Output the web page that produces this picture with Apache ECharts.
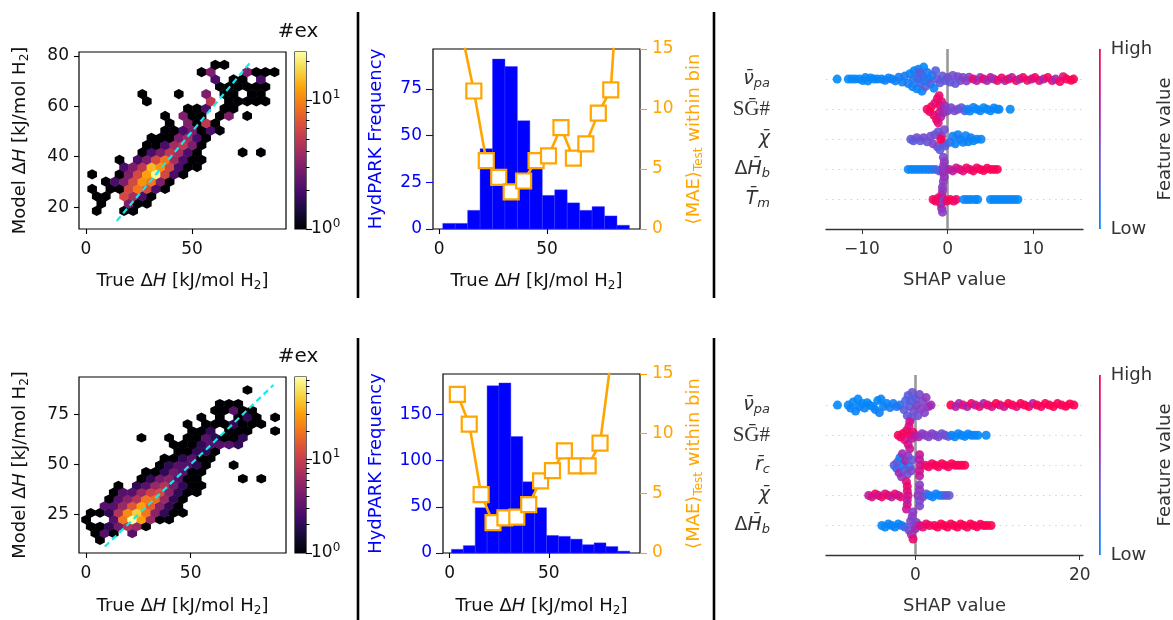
<!DOCTYPE html>
<html><head><meta charset="utf-8">
<script src="https://cdn.jsdelivr.net/npm/echarts@6/dist/echarts.min.js"></script>
<style>html,body{margin:0;padding:0;background:#fff}#c{width:1173px;height:620px}</style>
</head><body><div id="c"></div><script>
// ---------------- DATA ----------------
// Hexbin cells: [true ΔH, model ΔH, count]
const hexTop = [
[5.05,18.5,1],[17.95,18.5,1],[22.25,18.5,1],
[7.2,21.4,1],[20.1,21.4,3],[24.4,21.4,1],[28.7,21.4,1],
[5.05,24.3,1],[9.35,24.3,1],[17.95,24.3,6],[22.25,24.3,4],[26.55,24.3,2],[30.85,24.3,1],
[2.9,27.2,1],[11.5,27.2,1],[15.8,27.2,1],[20.1,27.2,6],[24.4,27.2,9],[28.7,27.2,6],[33.0,27.2,2],[37.3,27.2,1],
[9.35,30.1,1],[13.65,30.1,2],[17.95,30.1,3],[22.25,30.1,6],[26.55,30.1,11],[30.85,30.1,9],[35.15,30.1,3],[39.45,30.1,1],
[2.9,33.0,1],[15.8,33.0,1],[20.1,33.0,3],[24.4,33.0,6],[28.7,33.0,12],[33.0,33.0,22],[37.3,33.0,6],[41.6,33.0,2],[45.9,33.0,1],
[17.95,35.9,2],[22.25,35.9,3],[26.55,35.9,5],[30.85,35.9,14],[35.15,35.9,11],[39.45,35.9,6],[43.75,35.9,2],[48.05,35.9,1],[52.35,35.9,1],
[15.8,38.8,1],[24.4,38.8,2],[28.7,38.8,3],[33.0,38.8,6],[37.3,38.8,9],[41.6,38.8,4],[45.9,38.8,2],[50.2,38.8,1],[54.5,38.8,1],
[26.55,41.7,1],[30.85,41.7,2],[35.15,41.7,3],[39.45,41.7,5],[43.75,41.7,4],[48.05,41.7,2],[52.35,41.7,1],[73.85,41.7,1],[82.45,41.7,1],
[28.7,44.6,1],[33.0,44.6,1],[37.3,44.6,2],[41.6,44.6,4],[45.9,44.6,5],[50.2,44.6,3],[54.5,44.6,1],
[30.85,47.5,1],[35.15,47.5,1],[39.45,47.5,1],[43.75,47.5,3],[48.05,47.5,4],[52.35,47.5,2],[56.65,47.5,1],
[37.3,50.4,1],[41.6,50.4,1],[45.9,50.4,2],[50.2,50.4,3],[54.5,50.4,1],[58.8,50.4,2],[63.1,50.4,1],
[39.45,53.3,1],[48.05,53.3,3],[52.35,53.3,1],[56.65,53.3,5],[60.95,53.3,1],
[37.3,56.2,1],[45.9,56.2,3],[50.2,56.2,1],[54.5,56.2,1],[63.1,56.2,1],[67.4,56.2,3],[76.0,56.2,1],
[48.05,59.1,1],[52.35,59.1,1],[56.65,59.1,2],[65.25,59.1,1],[69.55,59.1,1],
[28.7,62.0,1],[58.8,62.0,5],[67.4,62.0,1],[71.7,62.0,1],[76.0,62.0,1],[80.3,62.0,1],[84.6,62.0,1],
[26.55,64.9,1],[43.75,64.9,1],[56.65,64.9,3],[65.25,64.9,1],[69.55,64.9,1],[78.15,64.9,1],[82.45,64.9,1],
[63.1,67.8,1],[67.4,67.8,1],[71.7,67.8,1],[76.0,67.8,1],[80.3,67.8,1],[84.6,67.8,1],
[60.95,70.7,2],[69.55,70.7,1],[73.85,70.7,1],[82.45,70.7,2],
[54.5,73.6,1],[58.8,73.6,3],[76.0,73.6,3],[80.3,73.6,1],[84.6,73.6,1],[88.9,73.6,1],
[60.95,76.5,1],[65.25,76.5,1]
];
const hexBot = [
[6.7,12.2,1],
[4.5,15.6,1],[8.9,15.6,3],[13.3,15.6,1],[22.1,15.6,3],
[2.3,19.0,1],[6.7,19.0,1],[11.1,19.0,2],[15.5,19.0,4],[19.9,19.0,8],[24.3,19.0,6],[28.7,19.0,1],
[0.1,22.4,1],[13.3,22.4,3],[17.7,22.4,20],[22.1,22.4,75],[26.5,22.4,30],[30.9,22.4,6],[35.3,22.4,1],[39.7,22.4,1],
[2.3,25.8,1],[6.7,25.8,1],[11.1,25.8,2],[15.5,25.8,8],[19.9,25.8,25],[24.3,25.8,45],[28.7,25.8,20],[33.1,25.8,5],[37.5,25.8,2],[41.9,25.8,1],[46.3,25.8,1],
[8.9,29.2,3],[13.3,29.2,3],[17.7,29.2,6],[22.1,29.2,14],[26.5,29.2,30],[30.9,29.2,15],[35.3,29.2,5],[39.7,29.2,2],[44.1,29.2,1],
[11.1,32.6,1],[15.5,32.6,3],[19.9,32.6,5],[24.3,32.6,8],[28.7,32.6,20],[33.1,32.6,18],[37.5,32.6,6],[41.9,32.6,2],[46.3,32.6,1],
[13.3,36.0,1],[17.7,36.0,3],[22.1,36.0,3],[26.5,36.0,6],[30.9,36.0,10],[35.3,36.0,12],[39.7,36.0,5],[44.1,36.0,2],[48.5,36.0,1],[52.9,36.0,1],
[15.5,39.4,1],[24.3,39.4,2],[28.7,39.4,3],[33.1,39.4,6],[37.5,39.4,8],[41.9,39.4,4],[46.3,39.4,2],[50.7,39.4,1],[55.1,39.4,1],
[26.5,42.8,1],[30.9,42.8,2],[35.3,42.8,4],[39.7,42.8,5],[44.1,42.8,3],[48.5,42.8,1],[52.9,42.8,1],[74.9,42.8,1],[83.7,42.8,1],
[28.7,46.2,1],[33.1,46.2,1],[37.5,46.2,2],[41.9,46.2,4],[46.3,46.2,3],[50.7,46.2,1],[55.1,46.2,1],
[35.3,49.6,1],[39.7,49.6,2],[44.1,49.6,3],[48.5,49.6,3],[52.9,49.6,2],[57.3,49.6,1],[70.5,49.6,1],
[37.5,53.0,1],[41.9,53.0,1],[46.3,53.0,2],[50.7,53.0,3],[55.1,53.0,1],[59.5,53.0,1],
[44.1,56.4,1],[48.5,56.4,1],[52.9,56.4,2],[57.3,56.4,2],[61.7,56.4,1],
[41.9,59.8,1],[46.3,59.8,1],[50.7,59.8,1],[55.1,59.8,2],[59.5,59.8,3],[63.9,59.8,3],[68.3,59.8,3],[72.7,59.8,2],
[26.5,63.2,1],[39.7,63.2,1],[48.5,63.2,1],[52.9,63.2,1],[57.3,63.2,3],[61.7,63.2,2],[66.1,63.2,1],[70.5,63.2,1],[74.9,63.2,2],
[50.7,66.6,1],[55.1,66.6,1],[59.5,66.6,2],[68.3,66.6,1],[72.7,66.6,1],[77.1,66.6,1],[90.3,66.6,1],
[48.5,70.0,1],[57.3,70.0,1],[61.7,70.0,1],[66.1,70.0,1],[70.5,70.0,2],[74.9,70.0,1],[79.3,70.0,1],[83.7,70.0,1],
[55.1,73.4,1],[63.9,73.4,1],[72.7,73.4,1],[77.1,73.4,2],[81.5,73.4,1],[90.3,73.4,1],
[61.7,76.8,1],[66.1,76.8,1],[70.5,76.8,3],[74.9,76.8,1],[79.3,76.8,1],
[63.9,80.2,1],[68.3,80.2,1],[72.7,80.2,1],
[77.1,87.0,1]
];
const hexMaxTop = 23.5, hexMaxBot = 75;
const hexStepTop = [4.3, 5.8], hexStepBot = [4.4, 6.8];   // hex grid spacing (data units)
const parityTop = [14.5, 78], parityBot = [9, 89.5];       // y = x reference line extent
const cbMajor = [1, 10];
const cbMinorTop = [2,3,4,5,6,7,8,9,20];
const cbMinorBot = [2,3,4,5,6,7,8,9,20,30,40,50,60,70];

// Histograms
const histEdgesTop = [1.7,7.46,13.22,18.98,24.74,30.5,36.26,42.02,47.78,53.54,59.3,65.06,70.82,76.58,82.34,88.1];
const histCountsTop = [3,3,10,43,91,87,58,41,18,21,14,10,12,7,2];
const maeTop = [25,16.5,11.5,5.7,4.3,3.1,4.0,5.7,6.1,8.45,5.9,7.1,9.65,11.6,27];
const histEdgesBot = [0.84,6.84,12.84,18.84,24.84,30.84,36.84,42.84,48.84,54.84,60.84,66.84,72.84,78.84,84.84,90.84];
const histCountsBot = [4,8,49,181,184,126,77,49,19,18,15,9,11,7,2];
const maeBot = [13.3,10.8,4.9,2.55,2.95,3.0,4.05,6.05,6.9,8.55,7.3,7.3,9.2,16.8,25];

// SHAP beeswarm: per feature row, points [shap value, vertical jitter (row units), feature value 0..1]
const featTop = ['{i|ν̄}{s|pa}','{r|SḠ#}','{i|χ̄}','{n|Δ}{i|H̄}{s|b}','{i|T̄}{s|m}'];
const featBot = ['{i|ν̄}{s|pa}','{r|SḠ#}','{i|r̄}{s|c}','{i|χ̄}','{n|Δ}{i|H̄}{s|b}'];
const shapTop = [
 [[-12.9,0,0],[-11.6,0,0.02],[-11.2,0,0.03],[-10.8,0,0.02],[-10.3,0,0.05],[-9.9,0.05,0.03],[-9.6,-0.05,0.04],[-9.3,0.06,0.02],[-9.0,-0.04,0.05],[-8.6,0,0.03],[-8.2,0,0.05],[-7.7,0,0.04],[-7.3,0.04,0.06],[-6.9,-0.04,0.05],[-6.5,0,0.08],[-6.1,0.06,0.06],[-5.7,-0.06,0.1],[-5.3,0.1,0.08],[-5.0,-0.1,0.12],
  [-4.6,0.15,0.1],[-4.4,-0.18,0.05],[-4.1,0.25,0.08],[-3.9,-0.28,0.06],[-3.6,0.32,0.04],[-3.4,-0.33,0.1],[-3.2,0.12,0.25],[-3.0,-0.12,0.2],[-3.0,0.4,0.05],[-2.8,-0.4,0.03],[-2.6,0.25,0.3],[-2.4,-0.22,0.12],[-2.2,0,0.22],[-2.0,0.15,0.3],[-1.8,-0.12,0.08],[-1.6,0.3,0.05],[-1.4,-0.28,0.28],[-1.2,0,0.3],[-4.0,0,0.15],[-3.5,0,0.2],[-2.7,0.05,0.15],[-3.3,-0.2,0.3],
  [-0.9,0.12,0.32],[-0.6,-0.1,0.35],[-0.3,0.05,0.3],[0,-0.05,0.38],[0.3,0.1,0.35],[0.6,-0.12,0.4],[0.9,0.15,0.33],[1.2,-0.08,0.42],[1.5,0.05,0.38],[1.8,-0.05,0.45],[2.2,0.06,0.5],[2.5,-0.06,0.48],
  [3.0,0,0.95],[3.4,0.05,0.7],[3.8,-0.05,0.55],[4.2,0,0.92],[4.6,0.05,0.6],[5.0,-0.05,0.75],[5.4,0,0.55],[5.8,0.05,0.85],[6.3,-0.04,0.95],[6.7,0.05,0.65],[7.1,0,0.92],[7.5,-0.05,0.7],[8.0,0.05,0.95],[8.4,0,0.6],[8.8,-0.05,0.9],[9.3,0.04,0.95],[9.8,0,0.75],[10.2,-0.05,0.95],[10.7,0.05,0.85],[11.2,0,0.65],[11.7,-0.05,0.95],[12.2,0.05,0.88],[12.6,0,0.6],[13.1,0.08,0.95],[13.5,-0.08,0.85],[13.9,0,0.98],[14.4,0.04,0.95],[14.7,0,1]],
 [[-2.4,0,0.95],[-2.1,0.08,0.9],[-1.9,-0.08,1],[-1.6,0.2,0.92],[-1.5,-0.2,0.85],[-1.3,0.35,0.95],[-1.2,-0.35,0.9],[-1.0,0.12,0.8],[-0.9,-0.12,1],[-0.8,0.25,0.7],[-0.7,-0.25,0.85],[-0.6,0,0.75],[-1.1,0.45,0.85],[-1.0,-0.45,0.9],[-0.4,0.1,0.6],[-0.3,-0.1,0.55],
  [0,0.05,0.5],[0.4,-0.05,0.45],[0.8,0.05,0.4],[1.2,0,0.42],[1.6,-0.05,0.35],[2.0,0.05,0.3],
  [2.3,0,0.1],[2.6,0.06,0.05],[3.0,-0.06,0.08],[3.4,0,0.03],[3.8,0.05,0.05],[4.2,-0.05,0.02],[4.6,0,0.04],[5.0,0.05,0.02],[5.4,-0.04,0.05],[5.8,0,0.02],[6.0,0,0.03],[7.3,0,0.02]],
 [[-4.3,0,0.35],[-4.0,0.05,0.3],[-3.6,-0.05,0.38],[-3.2,0.05,0.33],[-2.8,-0.05,0.42],[-2.4,0.08,0.35],[-2.0,-0.1,0.4],[-1.7,0.15,0.45],[-1.5,-0.15,0.38],[-1.2,0.25,0.42],[-1.1,-0.25,0.35],[-0.9,0.35,0.3],[-0.7,-0.1,0.55],[-0.5,0.12,0.45],[-0.4,-0.32,0.4],[-0.3,0.22,0.3],[-0.8,0,1],
  [0.3,0.1,0.2],[0.6,-0.1,0.1],[0.9,0.15,0.05],[1.2,-0.15,0.08],[1.5,0,0.12],[1.8,0.1,0.05],[2.1,-0.12,0.03],[2.4,0.08,0.06],[2.7,-0.05,0.1],[3.0,0.05,0.04],[3.4,0,0.02],[3.9,0,0.05]],
 [[-4.6,0,0.03],[-4.2,0,0.02],[-3.8,0,0.05],[-3.4,0,0.03],[-3.0,0,0.06],[-2.6,0,0.04],[-2.2,0,0.08],[-1.8,0,0.1],[-1.4,0,0.2],[-1.0,0.05,0.3],
  [-0.5,0.4,0.5],[-0.5,-0.4,0.45],[-0.4,0.25,0.55],[-0.4,-0.25,0.5],[-0.5,0.1,0.6],[-0.5,-0.1,0.55],[-0.3,0,0.5],
  [0.2,0,0.65],[0.6,0.05,0.7],[1.0,-0.05,0.75],[1.4,0,0.8],[1.8,0.05,0.85],[2.2,-0.05,0.9],[2.6,0,0.88],[3.0,0.05,0.95],[3.4,-0.05,0.92],[3.8,0,0.97],[4.2,0.04,1],[4.6,-0.04,0.95],[5.0,0,1],[5.4,0,0.98],[5.8,0,1]],
 [[-1.7,0,0.95],[-1.4,0.05,1],[-1.1,-0.05,0.9],[-0.8,0.15,0.85],[-0.7,-0.15,0.95],[-0.7,0.3,0.6],[-0.6,-0.3,0.55],[-0.6,0.42,0.5],[-0.6,-0.42,0.5],[-0.4,0,0.7],[-0.5,0.05,0.45],[-0.1,0.05,0.9],[0.3,0,1],[0.7,0.05,0.95],[1.0,0,0.9],
  [1.9,0,0.03],[2.3,0,0.05],[2.7,0,0.02],[3.2,0,0.04],[3.5,0,0.03],[5.0,0,0.02],[5.4,0,0.05],[5.8,0,0.03],[6.2,0,0.02],[6.6,0,0.04],[7.0,0,0.02],[7.4,0,0.05],[7.8,0,0.03],[8.2,0,0.02]]
];
const shapBot = [
 [[-9.5,0,0.02],[-8.2,0,0.03],[-7.9,0.1,0.05],[-7.6,-0.1,0.02],[-7.3,0.2,0.04],[-7.0,-0.2,0.03],[-6.8,0.05,0.06],[-6.5,-0.05,0.02],[-6.2,0.1,0.05],[-5.9,-0.08,0.03],[-5.6,0,0.04],[-5.2,0.05,0.02],[-4.9,0.15,0.05],[-4.6,-0.15,0.03],[-4.4,0.25,0.06],[-4.2,-0.2,0.04],[-3.9,0.05,0.08],[-3.5,-0.05,0.05],[-3.1,0.08,0.1],[-2.7,-0.05,0.08],[-2.3,0.05,0.12],[-1.9,0,0.15],
  [-1.4,0.15,0.3],[-1.2,-0.15,0.25],[-1.0,0.35,0.32],[-0.9,-0.32,0.3],[-0.7,0.05,0.35],[-0.5,0.42,0.33],[-0.4,-0.42,0.35],[-0.2,0.2,0.4],[0,-0.2,0.3],[0.1,0,0.45],[0.3,0.35,0.38],[0.5,-0.35,0.42],[0.7,0.12,0.5],[0.9,-0.12,0.45],[1.1,0.25,0.48],[1.3,-0.25,0.52],[1.6,0.05,0.55],[1.9,0,0.6],[-0.6,-0.15,0.28],
  [4.3,0,1],[4.9,0.05,0.7],[5.3,-0.05,0.6],[5.8,0,0.85],[6.3,0.05,0.65],[6.8,-0.05,0.95],[7.3,0,0.7],[7.8,0.05,0.9],[8.3,-0.05,0.62],[8.8,0,0.95],[9.3,0.05,0.8],[9.8,-0.05,1],[10.3,0,0.92],[10.8,0.05,0.75],[11.3,-0.05,1],[11.8,0,0.95],[12.3,0.05,0.88],[12.8,-0.05,1],[13.3,0,0.95],[13.8,0.05,1],[14.3,-0.05,0.7],[14.8,0,1],[15.3,0.05,0.95],[15.8,-0.05,1],[16.3,0,0.98],[16.8,0.05,1],[17.3,-0.05,1],[17.8,0,0.95],[18.3,0.04,1],[18.8,-0.04,1],[19.3,0,1]],
 [[-2.1,0,0.95],[-1.8,0.06,0.9],[-1.5,-0.06,1],[-1.3,0.15,0.85],[-1.1,-0.15,0.9],[-0.9,0.3,0.8],[-0.8,-0.3,0.85],[-0.7,0.45,0.75],[-0.7,-0.45,0.8],[-0.6,0,1],[-0.4,0.1,0.7],[-0.3,-0.1,0.9],[0,0,0.75],
  [0.4,0.05,0.6],[0.8,-0.05,0.55],[1.2,0,0.5],[1.6,0.05,0.45],[2.0,-0.05,0.5],[2.4,0,0.42],[2.8,0.05,0.45],[3.2,-0.05,0.38],[3.6,0,0.4],[4.0,0.04,0.35],
  [4.4,0,0.1],[4.8,0.05,0.05],[5.2,-0.05,0.03],[5.6,0,0.06],[6.0,0.04,0.02],[6.4,-0.04,0.05],[6.8,0,0.03],[7.2,0,0.05],[7.6,0,0.02],[8.6,0,0.03]],
 [[-2.6,0,0.3],[-2.3,0.1,0.2],[-2.2,-0.1,0.35],[-2.0,0.25,0.6],[-1.9,-0.25,0.1],[-1.7,0.38,0.55],[-1.6,-0.38,0.6],[-1.5,0,0.05],[-1.3,0.15,0.3],[-1.2,-0.15,0.65],[-1.0,0.3,0.4],[-0.9,-0.3,0.5],[-0.7,0.05,0.2],[-0.5,0.18,0.45],[-0.4,-0.18,0.35],
  [0.5,0.35,0.7],[0.5,-0.35,0.75],[0.5,0.18,0.8],[0.5,-0.18,0.7],[0.6,0,0.75],
  [1.2,0,0.9],[1.6,0.05,0.95],[2.0,-0.05,0.92],[2.4,0,1],[2.8,0.05,0.95],[3.2,-0.05,1],[3.6,0,0.9],[4.0,0.05,0.97],[4.4,-0.05,1],[4.8,0,0.95],[5.2,0,1],[5.6,0,0.97],[6.0,0,1]],
 [[-5.7,0,0.7],[-5.3,0.05,0.8],[-4.9,-0.05,0.95],[-4.5,0,0.75],[-4.1,0.05,0.9],[-3.7,-0.05,0.8],[-3.3,0,0.95],[-2.9,0.05,0.7],[-2.5,-0.05,0.9],[-2.1,0,0.75],[-1.8,0.05,0.85],
  [-1.1,0.45,0.75],[-1.1,-0.45,0.85],[-1.0,0.3,0.8],[-1.0,-0.3,0.9],[-1.0,0.15,0.7],[-1.0,-0.15,0.85],[-0.9,0,0.8],
  [0.5,0.35,0.45],[0.5,-0.35,0.5],[0.5,0.18,0.4],[0.5,-0.18,0.55],[0.3,0,0.5],[0.9,0.05,0.45],[1.3,-0.05,0.35],
  [1.7,0,0.1],[2.1,0.05,0.05],[2.5,-0.05,0.08],[2.9,0,0.03],[3.3,0,0.1],[3.7,0,0.3],[4.1,0,0.35]],
 [[-4.1,0,0.03],[-3.7,0.05,0.02],[-3.3,-0.05,0.05],[-2.9,0,0.03],[-2.5,0.05,0.06],[-2.1,-0.05,0.04],[-1.7,0,0.1],[-1.3,0.05,0.2],
  [-0.8,0.15,0.4],[-0.6,-0.15,0.45],[-0.5,0.3,0.55],[-0.4,-0.3,0.5],[-0.3,0.45,0.9],[-0.3,-0.45,0.5],[-0.2,0,0.4],[0,0.1,0.6],[0.1,-0.1,0.45],
  [0.5,0,0.8],[0.9,0.05,0.85],[1.3,-0.05,0.9],[1.7,0,0.95],
  [2.3,0,0.95],[2.7,0.05,1],[3.1,-0.05,0.95],[3.5,0,1],[3.9,0.05,0.97],[4.3,-0.05,1],[4.7,0,0.95],[5.1,0.05,1],[5.5,-0.05,0.98],[5.9,0,1],[6.3,0.05,0.95],[6.7,-0.05,1],[7.1,0,0.97],[7.5,0.04,1],[7.9,-0.04,0.95],[8.3,0,1],[8.7,0,0.98],[9.2,0,1]]
];

// Axis ranges and ticks
const ax = {
 hexTx:[-3.3,94.3], hexTy:[11.3,81.6], hexTxt:[0,50], hexTyt:[20,40,60,80],
 hexBx:[-3.3,95.5], hexBy:[5.8,93.5], hexBxt:[0,50], hexByt:[25,50,75],
 histTx:[-2.8,93], histTy:[0,96.4], histTyt:[0,25,50,75],
 histBx:[-3.4,96], histBy:[0,193.7], histByt:[0,50,100,150],
 maeY:[0,15], maeYt:[0,5,10,15],
 shapTx:[-14.2,15.8], shapTxt:[-10,0,10],
 shapBx:[-10.9,20.4], shapBxt:[0,20],
 rows:[-1,4.98]
};

// ---------------- STYLE / LAYOUT ----------------
const FONT = 'DejaVu Sans';
const FS = 17;
const BLUE = '#0000ff', ORANGE = '#ffa500', INK = '#111', GREY = '#333';
const INFERNO = ['#000004','#160b39','#420a68','#6a176e','#932667','#bc3754','#dd513a','#f37819','#fca50a','#f6d746','#fcffa4'];
const REDBLUE = ['#008bfb','#1a79f3','#4a63e4','#6d52d3','#8a3cc3','#a524ae','#c81596','#e80a72','#ff0052'];
const G = [
 {left:79,top:52,width:207,height:177},   // 0 hex top
 {left:295,top:52,width:11,height:177},   // 1 cbar top
 {left:433,top:49,width:207,height:180},  // 2 hist top
 {left:826,top:49,width:257,height:180},  // 3 shap top
 {left:1099,top:49,width:7,height:180},   // 4 shap cbar top
 {left:79,top:377,width:207,height:176},  // 5 hex bottom
 {left:295,top:377,width:11,height:176},  // 6 cbar bottom
 {left:443,top:374,width:197,height:179}, // 7 hist bottom
 {left:826,top:375,width:257,height:180}, // 8 shap bottom
 {left:1099,top:375,width:7,height:180}   // 9 shap cbar bottom
];
const boxed = {0:1,1:1,2:1,5:1,6:1,7:1};
const grids = G.map((g,i)=>Object.assign({show:!!boxed[i],borderColor:'#000',borderWidth:1.2,backgroundColor:'transparent',containLabel:false},g));

const richAx = (c)=>({
 n:{fontFamily:FONT,fontSize:18,color:c},
 i:{fontFamily:FONT,fontSize:18,fontStyle:'italic',color:c},
 s:{fontFamily:FONT,fontSize:12,color:c,padding:[9,0,0,0]}
});
const xName = '{n|True Δ}{i|H}{n| [kJ/mol H}{s|2}{n|]}';
const yName = '{n|Model Δ}{i|H}{n| [kJ/mol H}{s|2}{n|]}';
const minus = v => v<0 ? '\u2212'+Math.abs(v) : String(v);

function valAxis(grid, range, ticks, extra){
 const base = {
  type:'value', gridIndex:grid, min:range[0], max:range[1], scale:true,
  axisLine:{show:false,onZero:false}, splitLine:{show:false},
  axisTick:{show:true, customValues:ticks, length:5, lineStyle:{color:'#000',width:1.1}},
  axisLabel:{customValues:ticks, fontFamily:FONT, fontSize:FS, color:INK, margin:10, formatter:minus}
 };
 const o = Object.assign(base, extra||{});
 if (o.axisLine && o.axisLine.onZero === undefined) o.axisLine.onZero = false;
 return o;
}
function hiddenX(grid){ return {type:'value',gridIndex:grid,min:0,max:1,show:false,axisLine:{onZero:false}}; }
function cbAxes(grid, max, minor){
 const sup = v => v===1 ? '{b|10}{p|0}' : '{b|10}{p|1}';
 return [
  {type:'log',gridIndex:grid,position:'right',min:1,max:max,logBase:10,
   axisLine:{show:false,onZero:false},splitLine:{show:false},
   axisTick:{show:true,customValues:cbMajor,length:6,lineStyle:{color:'#000',width:1.1}},
   axisLabel:{customValues:cbMajor,margin:5,formatter:sup,rich:{b:{fontFamily:FONT,fontSize:FS,color:INK},p:{fontFamily:FONT,fontSize:12,color:INK,padding:[0,0,10,0]}}},
   name:'#ex',nameLocation:'end',nameGap:10,nameTextStyle:{fontFamily:FONT,fontSize:20,color:INK,align:'center',padding:[0,16,0,0]}},
  {type:'log',gridIndex:grid,position:'right',min:1,max:max,logBase:10,
   axisLine:{show:false,onZero:false},splitLine:{show:false},
   axisTick:{show:true,customValues:minor,length:3.5,lineStyle:{color:'#000',width:1}},
   axisLabel:{show:false}}
 ];
}
function rowAxis(grid, labels){
 return {type:'value',gridIndex:grid,min:ax.rows[0],max:ax.rows[1],inverse:true,
  axisLine:{show:false,onZero:false},axisTick:{show:false},splitLine:{show:false},
  axisLabel:{customValues:[0,1,2,3,4],margin:56,formatter:v=>labels[v],rich:{
   i:{fontFamily:FONT,fontSize:19,fontStyle:'italic',color:GREY},
   n:{fontFamily:FONT,fontSize:19,color:GREY},
   s:{fontFamily:FONT,fontSize:13,fontStyle:'italic',color:GREY,padding:[9,0,0,0]},
   r:{fontFamily:'Liberation Serif',fontSize:21,color:GREY}}}};
}
function scbAxis(grid){
 return {type:'value',gridIndex:grid,position:'right',min:0,max:1,
  axisLine:{show:false,onZero:false},axisTick:{show:false},splitLine:{show:false},
  axisLabel:{customValues:[0,1],margin:10,formatter:v=>v===1?'High':'Low',fontFamily:FONT,fontSize:18,color:GREY},
  name:'Feature value',nameLocation:'middle',nameRotate:90,nameGap:50,nameTextStyle:{fontFamily:FONT,fontSize:18,color:GREY}};
}
function xTrue(grid, r, t, gap){
 return valAxis(grid, r, t, {name:xName,nameLocation:'middle',nameGap:gap,nameTextStyle:{rich:richAx(INK)},
  axisLabel:{customValues:t,fontFamily:FONT,fontSize:FS,color:INK,margin:12}});
}
function xShap(grid, r, t){
 return valAxis(grid, r, t, {axisLine:{show:true,onZero:false,lineStyle:{color:GREY,width:1.3}},
  axisTick:{show:true,customValues:t,length:5,lineStyle:{color:GREY}},
  name:'SHAP value',nameLocation:'middle',nameGap:42,nameTextStyle:{fontFamily:FONT,fontSize:18,color:GREY},
  axisLabel:{customValues:t,fontFamily:FONT,fontSize:FS,color:GREY,margin:12,formatter:minus}});
}

const xAxes = [
 xTrue(0, ax.hexTx, ax.hexTxt, 42),
 hiddenX(1),
 xTrue(2, ax.histTx, ax.hexTxt, 42),
 xShap(3, ax.shapTx, ax.shapTxt),
 hiddenX(4),
 xTrue(5, ax.hexBx, ax.hexBxt, 43),
 hiddenX(6),
 xTrue(7, ax.histBx, ax.hexBxt, 43),
 xShap(8, ax.shapBx, ax.shapBxt),
 hiddenX(9)
];
const histLeft = (grid, r, t, gap) => valAxis(grid, r, t, {position:'left',
  axisTick:{show:true,customValues:t,length:7,lineStyle:{color:BLUE,width:1.1}},
  axisLabel:{customValues:t,fontFamily:FONT,fontSize:FS,color:BLUE,margin:11},
  name:'HydPARK Frequency',nameLocation:'middle',nameGap:gap,nameTextStyle:{fontFamily:FONT,fontSize:18,color:BLUE}});
const histRight = (grid) => valAxis(grid, ax.maeY, ax.maeYt, {position:'right',
  axisTick:{show:true,customValues:ax.maeYt,length:7,lineStyle:{color:ORANGE,width:1.1}},
  axisLabel:{customValues:ax.maeYt,fontFamily:FONT,fontSize:FS,color:ORANGE,margin:12},
  name:'{o|⟨MAE⟩}{s|Test}{o| within bin}',nameLocation:'middle',nameGap:44,nameRotate:90,
  nameTextStyle:{rich:{o:{fontFamily:FONT,fontSize:18,color:ORANGE},s:{fontFamily:FONT,fontSize:12,color:ORANGE,padding:[9,0,0,0]}}}});
const hexY = (grid, r, t) => valAxis(grid, r, t, {position:'left',name:yName,nameLocation:'middle',nameGap:48,nameTextStyle:{rich:richAx(INK)}});

const yAxes = [
 hexY(0, ax.hexTy, ax.hexTyt),
 ...cbAxes(1, hexMaxTop, cbMinorTop),
 histLeft(2, ax.histTy, ax.histTyt, 48),
 histRight(2),
 rowAxis(3, featTop),
 scbAxis(4),
 hexY(5, ax.hexBy, ax.hexByt),
 ...cbAxes(6, hexMaxBot, cbMinorBot),
 histLeft(7, ax.histBy, ax.histByt, 58),
 histRight(7),
 rowAxis(8, featBot),
 scbAxis(9)
];

// ---------------- SERIES ----------------
const hexPath = 'path://M50,0 L100,25 L100,75 L50,100 L0,75 L0,25 Z';
function hexSeries(data, gi, xi, yi, xr, yr, step){
 const g = G[gi];
 const w = step[0]*g.width/(xr[1]-xr[0]);
 const h = (2*step[1]/3)*g.height/(yr[1]-yr[0]);
 return {type:'scatter',xAxisIndex:xi,yAxisIndex:yi,symbol:hexPath,symbolSize:[w+0.5,h+0.5],
   data:data.map(d=>[d[0],d[1],d[2],Math.log10(d[2])]),itemStyle:{opacity:1},silent:true,z:2};
}
function parityLine(ext, xi, yi){
 return {type:'line',xAxisIndex:xi,yAxisIndex:yi,data:[[ext[0],ext[0]],[ext[1],ext[1]]],symbol:'none',
   lineStyle:{color:'#17e8e8',width:2.2,type:[6,4]},z:4,silent:true};
}
function cbSeries(xi, yi, colors){
 return {type:'custom',xAxisIndex:xi,yAxisIndex:yi,data:[[0.5,2]],silent:true,z:1,
  renderItem:(p,api)=>{const cs=p.coordSys;
   const stops=colors.map((c,k)=>({offset:k/(colors.length-1),color:c}));
   return {type:'rect',shape:{x:cs.x,y:cs.y,width:cs.width,height:cs.height},
     style:{fill:new echarts.graphic.LinearGradient(0,1,0,0,stops)}};}};
}
function histSeries(edges, counts, xi, yi){
 return {type:'custom',xAxisIndex:xi,yAxisIndex:yi,silent:true,z:1,
  data:counts.map((c,k)=>[edges[k],edges[k+1],c]),encode:{x:[0,1],y:2},
  renderItem:(p,api)=>{const a=api.coord([api.value(0),api.value(2)]);const b=api.coord([api.value(1),0]);
   return {type:'rect',shape:{x:a[0],y:a[1],width:b[0]-a[0],height:b[1]-a[1]},style:{fill:BLUE,stroke:'#3a3aff',lineWidth:0.4}};}};
}
function maeSeries(edges, mae, xi, yi){
 return {type:'line',xAxisIndex:xi,yAxisIndex:yi,clip:true,z:5,silent:true,
  data:mae.map((m,k)=>[(edges[k]+edges[k+1])/2,m]),
  symbol:'rect',symbolSize:15,showAllSymbol:true,
  itemStyle:{color:'#fff',borderColor:ORANGE,borderWidth:2.2},
  lineStyle:{color:ORANGE,width:2.6}};
}
function shapGuide(xi, yi){
 const rowsML=[0,1,2,3,4].map(r=>({yAxis:r,lineStyle:{color:'#c8c8c8',width:1.2,type:[1.2,5]}}));
 return {type:'scatter',xAxisIndex:xi,yAxisIndex:yi,data:[],z:1,silent:true,
  markLine:{silent:true,symbol:'none',label:{show:false},animation:false,
   data:[{xAxis:0,lineStyle:{color:'#999',width:2.6,type:'solid'}}].concat(rowsML)}};
}
function shapSeries(rows, xi, yi){
 const data=[];
 rows.forEach((row,r)=>row.forEach(p=>data.push([p[0],r+p[1],p[2]])));
 return {type:'scatter',xAxisIndex:xi,yAxisIndex:yi,data:data,symbol:'circle',symbolSize:9,z:10,silent:true,
   itemStyle:{opacity:0.9}};
}

const series = [
 hexSeries(hexTop,0,0,0,ax.hexTx,ax.hexTy,hexStepTop),    //0
 cbSeries(1,1,INFERNO),                                   //1
 histSeries(histEdgesTop,histCountsTop,2,3),              //2
 maeSeries(histEdgesTop,maeTop,2,4),                      //3
 shapGuide(3,5),                                          //4
 shapSeries(shapTop,3,5),                                 //5
 cbSeries(4,6,REDBLUE),                                   //6
 hexSeries(hexBot,5,5,7,ax.hexBx,ax.hexBy,hexStepBot),    //7
 cbSeries(6,8,INFERNO),                                   //8
 histSeries(histEdgesBot,histCountsBot,7,10),             //9
 maeSeries(histEdgesBot,maeBot,7,11),                     //10
 shapGuide(8,12),                                         //11
 shapSeries(shapBot,8,12),                                //12
 cbSeries(9,13,REDBLUE),                                  //13
 parityLine(parityTop,0,0),                               //14
 parityLine(parityBot,5,7)                                //15
];

const chart = echarts.init(document.getElementById('c'),null,{renderer:'canvas'});
chart.setOption({
 animation:false,
 backgroundColor:'#fff',
 grid:grids, xAxis:xAxes, yAxis:yAxes, series:series,
 visualMap:[
  {type:'continuous',show:false,seriesIndex:0,dimension:3,min:0,max:Math.log10(hexMaxTop),inRange:{color:INFERNO}},
  {type:'continuous',show:false,seriesIndex:7,dimension:3,min:0,max:Math.log10(hexMaxBot),inRange:{color:INFERNO}},
  {type:'continuous',show:false,seriesIndex:[5,12],dimension:2,min:0,max:1,inRange:{color:REDBLUE}}
 ],
 graphic:[
  {type:'line',shape:{x1:358,y1:12,x2:358,y2:298},style:{stroke:'#000',lineWidth:2.6},silent:true},
  {type:'line',shape:{x1:714,y1:12,x2:714,y2:298},style:{stroke:'#000',lineWidth:2.6},silent:true},
  {type:'line',shape:{x1:358,y1:338,x2:358,y2:620},style:{stroke:'#000',lineWidth:2.6},silent:true},
  {type:'line',shape:{x1:714,y1:338,x2:714,y2:620},style:{stroke:'#000',lineWidth:2.6},silent:true}
 ]
});
</script></body></html>
